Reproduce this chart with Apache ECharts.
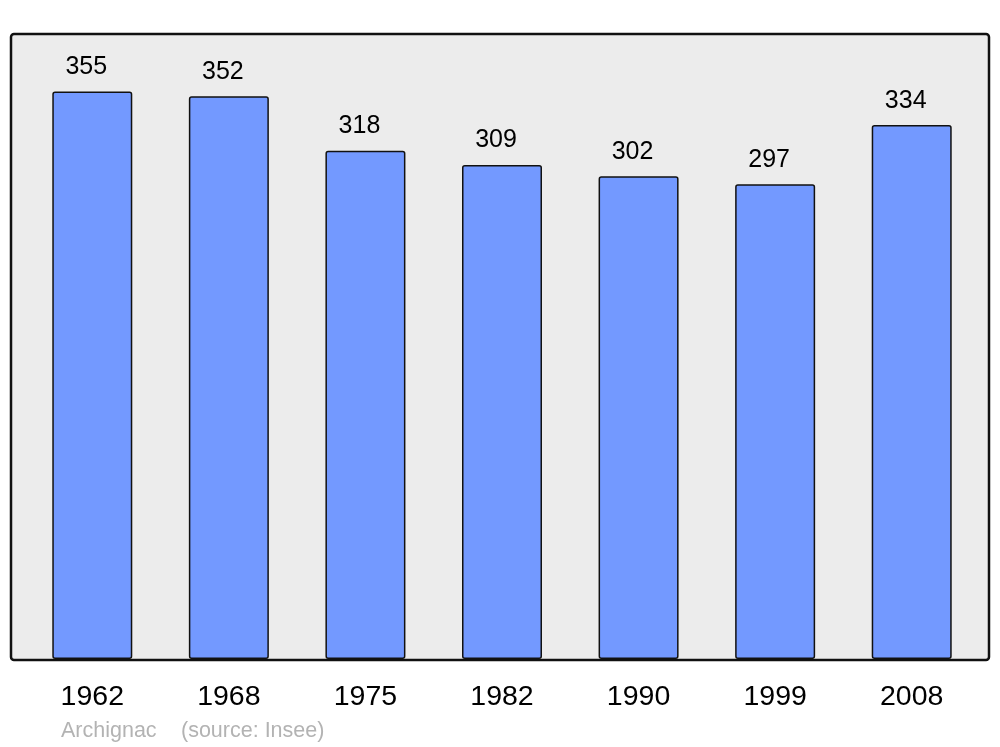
<!DOCTYPE html>
<html>
<head>
<meta charset="utf-8">
<script src="https://cdn.jsdelivr.net/npm/echarts@6/dist/echarts.min.js"></script>
<style>
html,body{margin:0;padding:0;background:#ffffff;}
#chart{width:1000px;height:747px;}
</style>
</head>
<body>
<div id="chart"></div>
<script>
const years = ['1962', '1968', '1975', '1982', '1990', '1999', '2008'];
const population = [355, 352, 318, 309, 302, 297, 334];
const commune = 'Archignac';
const source = '(source: Insee)';

const chart = echarts.init(document.getElementById('chart'), null, {renderer: 'canvas'});
const font = '"Liberation Sans", Arial, sans-serif';
chart.setOption({
  animation: false,
  backgroundColor: '#ffffff',
  grid: {left: 24, right: 20, top: 34, bottom: 88, containLabel: false},
  graphic: [
    {type: 'rect', z: -10, silent: true,
     shape: {x: 11, y: 34, width: 978, height: 626, r: 3},
     style: {fill: '#ececec', stroke: '#111111', lineWidth: 2.5}},
    {type: 'text', left: 61, top: 720, silent: true,
     style: {text: commune, fill: '#b3b3b3', font: '21.5px ' + font}},
    {type: 'text', left: 181, top: 720, silent: true,
     style: {text: source, fill: '#b3b3b3', font: '21.5px ' + font}}
  ],
  xAxis: {
    type: 'category',
    data: years,
    axisLine: {show: false},
    axisTick: {show: false},
    axisLabel: {color: '#000000', fontSize: 28.5, fontFamily: font, margin: 24}
  },
  yAxis: {
    type: 'value',
    min: 0,
    max: 391,
    show: false,
    splitLine: {show: false}
  },
  series: [{
    type: 'bar',
    data: population,
    barWidth: 80,
    itemStyle: {color: '#7399ff', borderColor: '#111111', borderWidth: 1.5, borderRadius: 2},
    label: {show: true, position: 'top', distance: 12, offset: [-6, 0], color: '#000000', fontSize: 25, fontFamily: font}
  }]
});
</script>
</body>
</html>
